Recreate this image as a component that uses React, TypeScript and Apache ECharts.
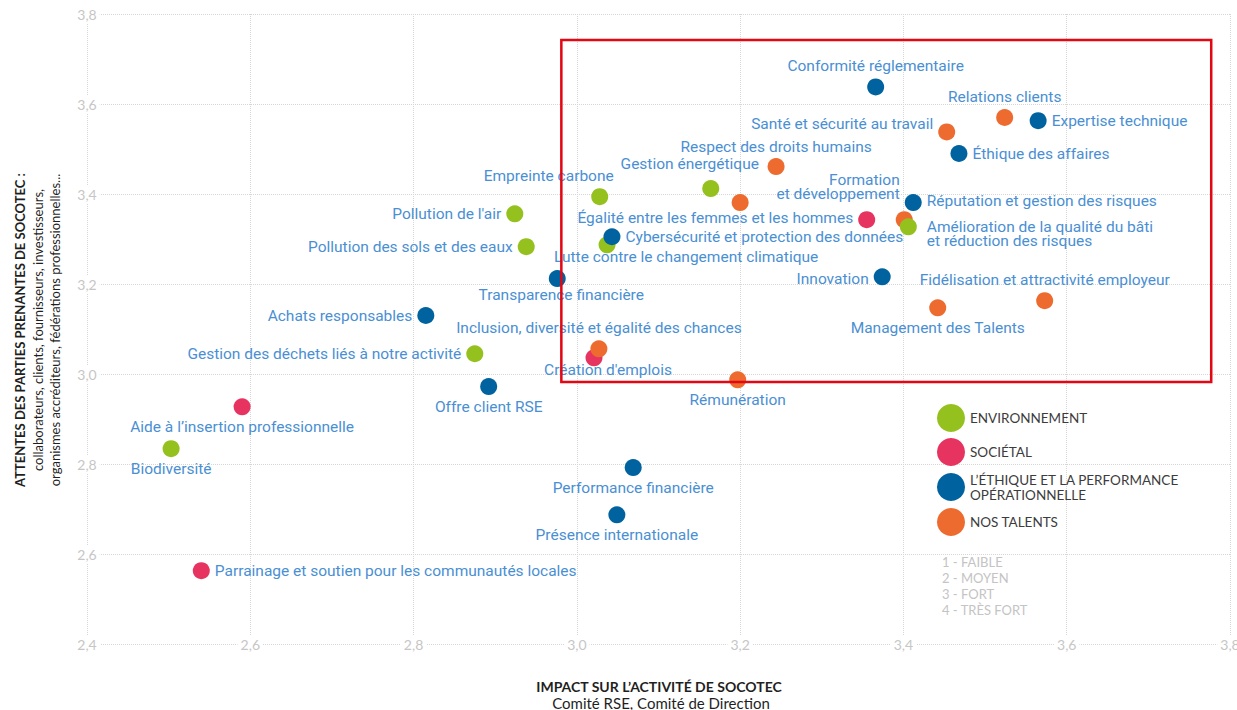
import React, { useEffect, useRef } from "react";
import * as echarts from "echarts";

// ---- categories ----
const categories = [
  "ENVIRONNEMENT",
  "SOCIÉTAL",
  "L’ÉTHIQUE ET LA PERFORMANCE OPÉRATIONNELLE",
  "NOS TALENTS",
];
const categoryColors = ["#95c11f", "#e6335f", "#00639f", "#ee6b2f"];

// ---- ENVIRONNEMENT ----
const envNames = [
  "Biodiversité",
  "Pollution de l'air",
  "Pollution des sols et des eaux",
  "Empreinte carbone",
  "Gestion énergétique",
  "Lutte contre le changement climatique",
  "Gestion des déchets liés à notre activité",
  "Amélioration de la qualité du bâti\net réduction des risques",
];
const envX = [2.503, 2.924, 2.938, 3.028, 3.164, 3.037, 2.875, 3.406];
const envY = [2.834, 3.356, 3.283, 3.394, 3.412, 3.287, 3.045, 3.327];

// ---- SOCIÉTAL ----
const socNames = [
  "Aide à l’insertion professionnelle",
  "Parrainage et soutien pour les communautés locales",
  "Création d'emplois",
  "Égalité entre les femmes et les hommes",
];
const socX = [2.59, 2.54, 3.021, 3.355];
const socY = [2.927, 2.563, 3.036, 3.343];

// ---- L'ÉTHIQUE ET LA PERFORMANCE OPÉRATIONNELLE ----
const ethNames = [
  "Conformité réglementaire",
  "Expertise technique",
  "Éthique des affaires",
  "Réputation et gestion des risques",
  "Innovation",
  "Cybersécurité et protection des données",
  "Transparence financière",
  "Achats responsables",
  "Offre client RSE",
  "Performance financière",
  "Présence internationale",
];
const ethX = [3.366, 3.565, 3.468, 3.412, 3.374, 3.043, 2.976, 2.815, 2.892, 3.069, 3.049];
const ethY = [3.638, 3.563, 3.49, 3.381, 3.216, 3.305, 3.212, 3.13, 2.972, 2.792, 2.687];

// ---- NOS TALENTS ----
const talNames = [
  "Relations clients",
  "Santé et sécurité au travail",
  "Respect des droits humains",
  "",
  "Formation\net développement",
  "Inclusion, diversité et égalité des chances",
  "Rémunération",
  "Fidélisation et attractivité employeur",
  "Management des Talents",
];
const talX = [3.524, 3.453, 3.244, 3.2, 3.401, 3.027, 3.197, 3.573, 3.442];
const talY = [3.57, 3.538, 3.461, 3.381, 3.343, 3.056, 2.987, 3.163, 3.147];

// ---- focus zone (x1, y1, x2, y2) ----
const focusZone = [[2.981, 3.742, 3.777, 2.982]];

// ---- axis ticks / notes ----
const axisMin = 2.4;
const axisMax = 3.8;
const axisStep = 0.2;
const scaleNotes = ["1 - FAIBLE", "2 - MOYEN", "3 - FORT", "4 - TRÈS FORT"];

// label placement (style, kept apart from data): [position, dx, dy]
const labelLayoutMap: Record<string, [string, number, number]> = {
  "Biodiversité": ["bottom", 0, 0],
  "Pollution de l'air": ["left", 0, 0],
  "Pollution des sols et des eaux": ["left", 0, 0],
  "Empreinte carbone": ["top", -51, 0],
  "Gestion énergétique": ["top", -21, -4],
  "Lutte contre le changement climatique": ["bottom", 79, -8],
  "Gestion des déchets liés à notre activité": ["left", 0, 0],
  "Amélioration de la qualité du bâti\net réduction des risques": ["right", 5, 7],
  "Aide à l’insertion professionnelle": ["bottom", 0, 0],
  "Parrainage et soutien pour les communautés locales": ["right", 0, 0],
  "Création d'emplois": ["bottom", 14, -8],
  "Égalité entre les femmes et les hommes": ["left", 0, -2],
  "Conformité réglementaire": ["top", 0, 0],
  "Expertise technique": ["right", 0, 0],
  "Éthique des affaires": ["right", 0, 0],
  "Réputation et gestion des risques": ["right", 0, -2],
  "Innovation": ["left", 0, 2],
  "Cybersécurité et protection des données": ["right", 0, 0],
  "Transparence financière": ["bottom", 4, -4],
  "Achats responsables": ["left", 0, 0],
  "Offre client RSE": ["bottom", 0, 0],
  "Performance financière": ["bottom", 0, 0],
  "Présence internationale": ["bottom", 0, 0],
  "Relations clients": ["top", 0, 0],
  "Santé et sécurité au travail": ["left", 0, -8],
  "Respect des droits humains": ["top", 0, 1],
  "Formation\net développement": ["left", 9, -33],
  "Inclusion, diversité et égalité des chances": ["top", 0, 0],
  "Rémunération": ["bottom", 0, 0],
  "Fidélisation et attractivité employeur": ["top", 0, 0],
  "Management des Talents": ["bottom", 0, 0],
};

const LABEL_COLOR = "#4a8fd3";

function buildPoints(names: string[], xs: number[], ys: number[]) {
  return names.map((n, i) => {
    const lay = labelLayoutMap[n];
    return {
      name: n,
      value: [xs[i], ys[i]],
      label: lay ? { show: true, position: lay[0] } : { show: false },
    };
  });
}

const fmt = (v: number) => v.toFixed(1).replace(".", ",");

export default function App() {
  const ref = useRef<HTMLDivElement>(null);

  useEffect(() => {
    document.documentElement.style.overflow = "hidden";
    document.body.style.margin = "0";
    document.body.style.overflow = "hidden";
    if (!ref.current) return;
    const chart = echarts.init(ref.current, undefined, { renderer: "svg" });

    const scatter = (idx: number, names: string[], xs: number[], ys: number[], z: number) => ({
      name: categories[idx],
      type: "scatter",
      symbol: "circle",
      symbolSize: 17,
      z,
      itemStyle: { color: categoryColors[idx], opacity: 1 },
      label: {
        show: true,
        formatter: "{b}",
        color: LABEL_COLOR,
        fontFamily: "Roboto",
        fontSize: 15.5,
        lineHeight: 14,
        distance: 5,
      },
      labelLayout: (params: any) => {
        const lay = labelLayoutMap[names[params.dataIndex]];
        return lay ? { dx: lay[1], dy: lay[2], hideOverlap: false } : {};
      },
      emphasis: { disabled: true },
      data: buildPoints(names, xs, ys),
    });

    const option: any = {
      animation: false,
      backgroundColor: "#ffffff",
      grid: {
        left: 87,
        right: 7,
        top: 14,
        bottom: 66,
        containLabel: false,
        outerBoundsMode: "none",
      },
      xAxis: {
        type: "value",
        min: axisMin,
        max: axisMax,
        interval: axisStep,
        axisLine: { show: false },
        axisTick: { show: false },
        splitLine: { show: true, lineStyle: { type: "dotted", color: "#d6d6d6", width: 1 } },
        axisLabel: {
          formatter: fmt,
          margin: 0,
          verticalAlign: "middle",
          color: "#c6c6c6",
          fontFamily: "Lato",
          fontSize: 14,
          backgroundColor: "#ffffff",
          padding: [2, 3],
        },
      },
      yAxis: {
        type: "value",
        min: axisMin,
        max: axisMax,
        interval: axisStep,
        axisLine: { show: false },
        axisTick: { show: false },
        splitLine: { show: true, lineStyle: { type: "dotted", color: "#d6d6d6", width: 1 } },
        axisLabel: {
          formatter: fmt,
          margin: 0,
          align: "center",
          color: "#c6c6c6",
          fontFamily: "Lato",
          fontSize: 14,
          backgroundColor: "#ffffff",
          padding: [2, 3],
        },
      },
      legend: {
        orient: "vertical",
        left: 932,
        top: 399,
        padding: 5,
        itemWidth: 28,
        itemHeight: 28,
        itemGap: 6,
        icon: "circle",
        selectedMode: false,
        data: categories,
        formatter: (n: string) => n.replace(" OPÉRATIONNELLE", "\nOPÉRATIONNELLE"),
        textStyle: { fontFamily: "Lato", fontSize: 13.5, color: "#3c3c3c", lineHeight: 15 },
      },
      series: [
        scatter(1, socNames, socX, socY, 2),
        scatter(3, talNames, talX, talY, 3),
        scatter(0, envNames, envX, envY, 4),
        scatter(2, ethNames, ethX, ethY, 5),
        {
          type: "custom",
          name: "zone",
          silent: true,
          z: 10,
          encode: { x: [0, 2], y: [1, 3] },
          data: focusZone,
          renderItem: (_p: any, api: any) => {
            const p1 = api.coord([api.value(0), api.value(1)]);
            const p2 = api.coord([api.value(2), api.value(3)]);
            return {
              type: "rect",
              shape: { x: p1[0], y: p1[1], width: p2[0] - p1[0], height: p2[1] - p1[1] },
              style: { fill: "none", stroke: "#e30613", lineWidth: 2.5 },
            };
          },
        },
      ],
      graphic: [
        {
          type: "text",
          x: 20,
          y: 330,
          rotation: Math.PI / 2,
          style: {
            text: "ATTENTES DES PARTIES PRENANTES DE SOCOTEC :",
            font: "bold 13px Lato",
            fill: "#1f1f1f",
            textAlign: "center",
            textVerticalAlign: "middle",
          },
        },
        {
          type: "text",
          x: 38,
          y: 330,
          rotation: Math.PI / 2,
          style: {
            text: "collaborateurs, clients, fournisseurs, investisseurs,",
            font: "13px Lato",
            fill: "#1f1f1f",
            textAlign: "center",
            textVerticalAlign: "middle",
          },
        },
        {
          type: "text",
          x: 55,
          y: 330,
          rotation: Math.PI / 2,
          style: {
            text: "organismes accréditeurs, fédérations professionnelles...",
            font: "13px Lato",
            fill: "#1f1f1f",
            textAlign: "center",
            textVerticalAlign: "middle",
          },
        },
        {
          type: "text",
          x: 659,
          y: 686,
          style: {
            text: "IMPACT SUR L’ACTIVITÉ DE SOCOTEC",
            font: "bold 14px Lato",
            fill: "#1f1f1f",
            textAlign: "center",
            textVerticalAlign: "middle",
          },
        },
        {
          type: "text",
          x: 661,
          y: 710,
          style: {
            text: "Comité RSE, Comité de Direction",
            font: "15px Lato",
            fill: "#1f1f1f",
            textAlign: "center",
            textVerticalAlign: "bottom",
          },
        },
        {
          type: "text",
          x: 942,
          y: 554,
          style: {
            text: scaleNotes.join("\n"),
            font: "13px Lato",
            lineHeight: 16,
            fill: "#c4c4c4",
            textAlign: "left",
            textVerticalAlign: "top",
          },
        },
      ],
    };

    chart.setOption(option);
    return () => chart.dispose();
  }, []);

  return <div ref={ref} style={{ width: 1237, height: 710 }} />;
}
